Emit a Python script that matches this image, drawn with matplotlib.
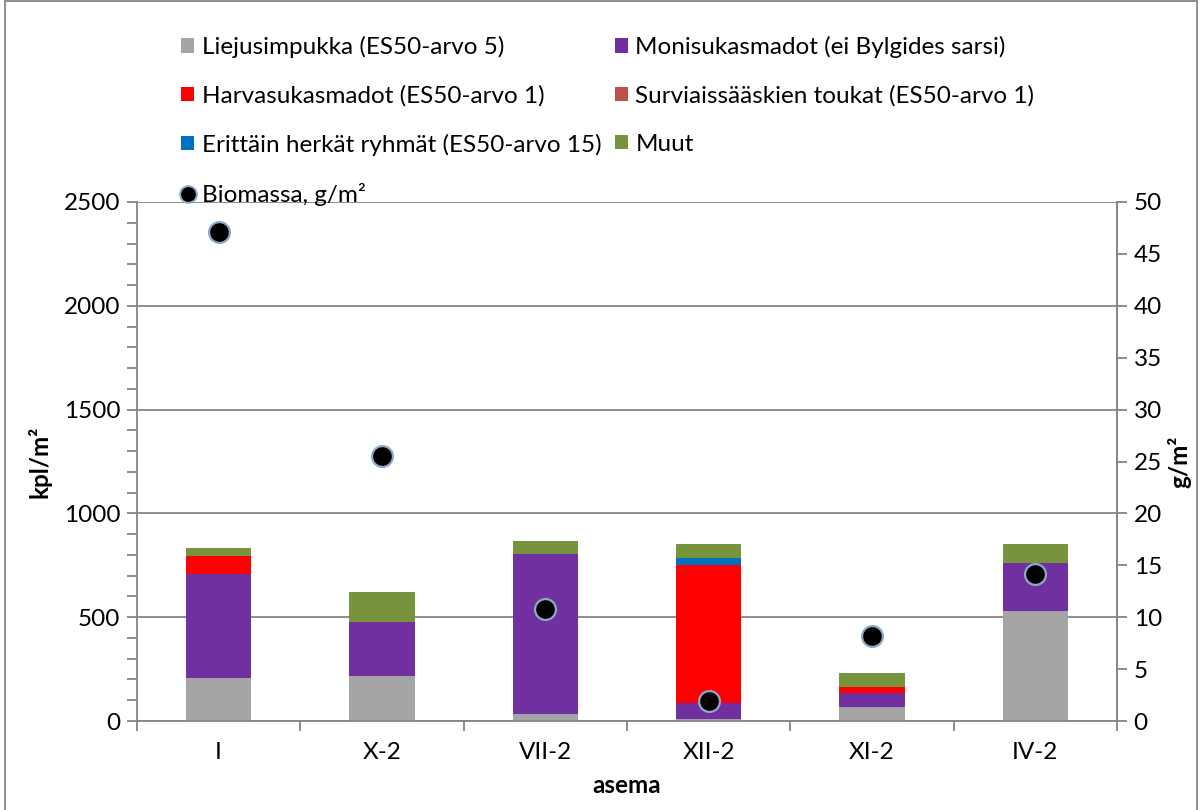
import matplotlib
matplotlib.use("Agg")
import matplotlib.pyplot as plt
from matplotlib.lines import Line2D
from matplotlib.patches import Patch, Rectangle
from matplotlib.ticker import MultipleLocator
import numpy as np

plt.rcParams['font.family'] = ['Lato', 'DejaVu Sans']

stations = ["I", "X-2", "VII-2", "XII-2", "XI-2", "IV-2"]

liejusimpukka = [207, 218, 32, 8, 66, 531]
monisukasmadot = [501, 257, 774, 77, 67, 231]
harvasukasmadot = [88, 0, 0, 668, 29, 0]
surviaissaaski = [0, 0, 0, 0, 0, 0]
herkat = [0, 0, 0, 32, 0, 0]
muut = [36, 145, 60, 68, 68, 92]
biomassa = [47.1, 25.5, 10.8, 1.9, 8.2, 14.2]

series = [
    ("Liejusimpukka (ES50-arvo 5)", liejusimpukka, "#A5A5A5"),
    ("Monisukasmadot (ei Bylgides sarsi)", monisukasmadot, "#7030A0"),
    ("Harvasukasmadot (ES50-arvo 1)", harvasukasmadot, "#FF0000"),
    ("Surviaissääskien toukat (ES50-arvo 1)", surviaissaaski, "#C0504D"),
    ("Erittäin herkät ryhmät (ES50-arvo 15)", herkat, "#0070C0"),
    ("Muut", muut, "#77933C"),
]

FS = 17.5
axis_grey = "#868686"

fig = plt.figure(figsize=(12.02, 8.10), dpi=100)
ax = fig.add_axes([137 / 1202, 1 - 721 / 810, 980 / 1202, 519 / 810])

x = np.arange(len(stations))
bottom = np.zeros(len(stations))
handles = {}
for label, vals, color in series:
    vals = np.array(vals, dtype=float)
    ax.bar(x, vals, width=0.4, bottom=bottom, color=color, zorder=2)
    bottom += vals
    handles[label] = Patch(facecolor=color, label=label)

ax.set_xlim(-0.5, len(stations) - 0.5)
ax.set_ylim(0, 2500)
ax.yaxis.set_major_locator(MultipleLocator(500))
ax.yaxis.set_minor_locator(MultipleLocator(100))
ax.grid(axis="y", which="major", color=axis_grey, linewidth=1.3, zorder=0)
ax.set_axisbelow(True)

ax.set_xticks(x)
ax.set_xticklabels(stations, fontsize=FS)
ax.set_xticks(np.arange(-0.5, len(stations)), minor=True)
ax.tick_params(axis="x", which="major", length=0, pad=15)
ax.tick_params(axis="x", which="minor", length=7, color=axis_grey, width=1.3)
ax.tick_params(axis="y", which="major", length=7, color=axis_grey, width=1.3,
               labelsize=FS, pad=5)
ax.tick_params(axis="y", which="minor", length=7, color=axis_grey, width=1.3)

ax.spines["top"].set_visible(False)
for side in ["left", "bottom", "right"]:
    ax.spines[side].set_color(axis_grey)
    ax.spines[side].set_linewidth(1.3)

ax.set_xlabel("asema", fontsize=FS, fontweight="bold", labelpad=8)
ax.set_ylabel("kpl/m²", fontsize=FS, fontweight="bold", labelpad=9)

ax2 = ax.twinx()
ax2.set_ylim(0, 50)
ax2.yaxis.set_major_locator(MultipleLocator(5))
ax2.tick_params(axis="y", which="major", length=7, color=axis_grey, width=1.3,
                labelsize=FS, pad=5)
for side in ["top", "left", "bottom"]:
    ax2.spines[side].set_visible(False)
ax2.spines["right"].set_color(axis_grey)
ax2.spines["right"].set_linewidth(1.3)
ax2.plot(x, biomassa, linestyle="none", marker="o", markersize=15,
         markerfacecolor="black", markeredgecolor="#8EA9C8",
         markeredgewidth=1.6, zorder=3)
ax2.set_ylabel("g/m²", fontsize=FS, fontweight="bold", labelpad=4)

bio_handle = Line2D([], [], linestyle="none", marker="o", markersize=12,
                    markerfacecolor="black", markeredgecolor="#8EA9C8",
                    markeredgewidth=1.4, label="Biomassa, g/m²")

order = [
    handles["Liejusimpukka (ES50-arvo 5)"],
    handles["Harvasukasmadot (ES50-arvo 1)"],
    handles["Erittäin herkät ryhmät (ES50-arvo 15)"],
    bio_handle,
    handles["Monisukasmadot (ei Bylgides sarsi)"],
    handles["Surviaissääskien toukat (ES50-arvo 1)"],
    handles["Muut"],
]
fig.legend(handles=order, loc="upper left", bbox_to_anchor=(181 / 1202, 1 - 36 / 810),
           ncol=2, frameon=False, fontsize=FS, handlelength=0.55,
           handleheight=0.55, handletextpad=0.3, columnspacing=0.55,
           labelspacing=1.11, borderpad=0, borderaxespad=0)

fig.patches.append(Rectangle((5 / 1202, -0.05), 1192 / 1202, 1.05 - 1 / 810,
                             transform=fig.transFigure, fill=False,
                             edgecolor=axis_grey, linewidth=1.3))

fig.savefig("out.png", dpi=100)
